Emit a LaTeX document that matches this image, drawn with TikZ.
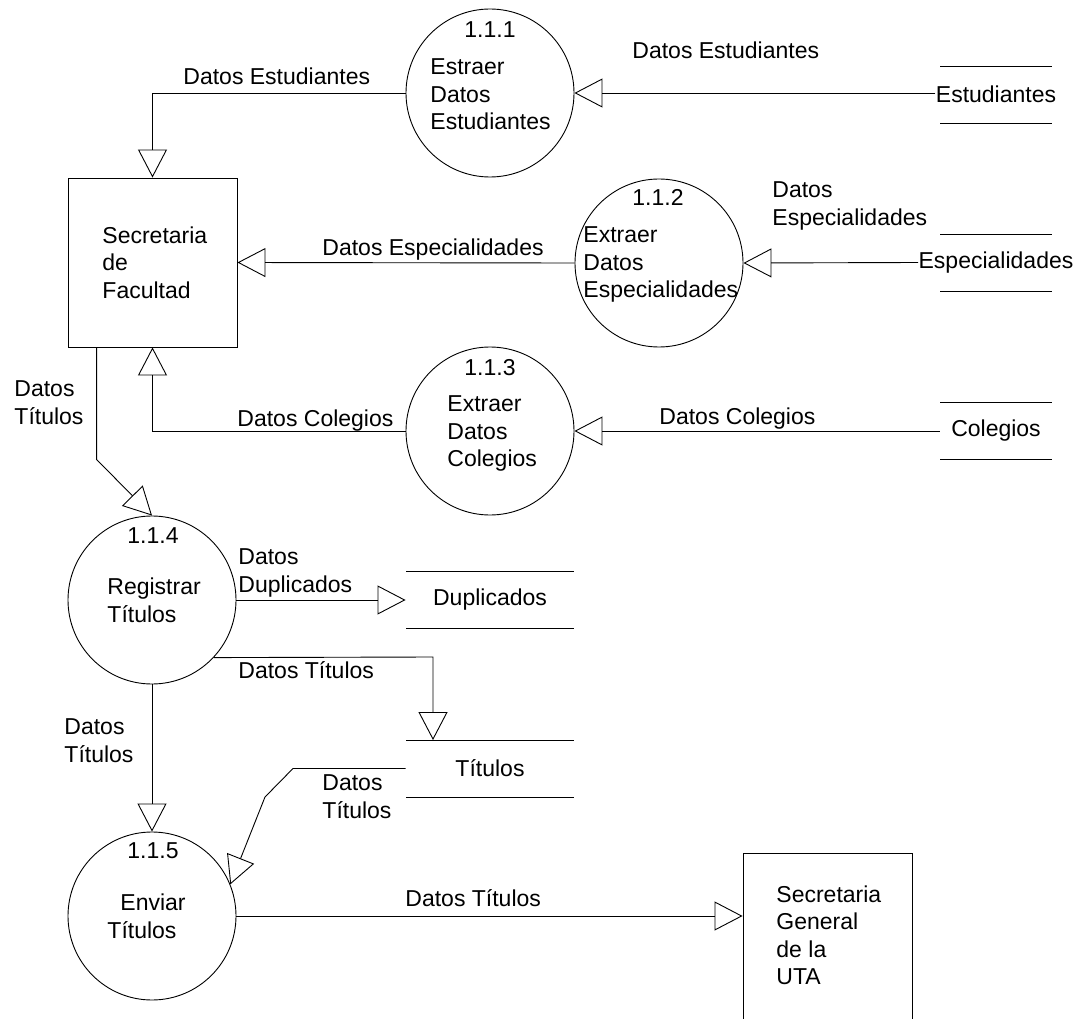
\documentclass[tikz,border=0pt]{standalone}
\usepackage{fontspec}
\setmainfont{Liberation Sans}
\usetikzlibrary{arrows.meta,calc}

\tikzset{
  every node/.style={font=\fontsize{23}{27.5}\selectfont, inner sep=0pt},
  proc/.style={circle, draw, minimum size=168pt},
  entity/.style={rectangle, draw, minimum width=169pt},
  store/.style={rectangle, minimum height=56pt, minimum width=#1},
  txt/.style={align=left, anchor=north west},
  lbl/.style={anchor=base west},
  num/.style={anchor=base},
  flow/.style={draw, -{Triangle[open, length=28pt, width=29pt]}},
}

\begin{document}
\begin{tikzpicture}[x=1pt, y=-1pt, line width=0.9pt]
\clip (0,0) rectangle (1085,1019);
\fill[white] (0,0) rectangle (1085,1019);

% external entities
\node[entity, minimum height=169pt] (sf) at (152.5,262.5) {};
\node[txt] (sfT) at (102,226.3) {Secretaria\\de\\Facultad};
\node[entity, minimum height=186pt] (sg) at (827.5,946) {};
\node[txt] (sgT) at (776,885.3) {Secretaria\\General\\de la\\UTA};

% processes
\node[proc] (c111) at (490,93) {};
\node[num] (n111) at (490,38) {1.1.1};
\node[txt] (t111) at (430,58.3) {Estraer\\Datos\\Estudiantes};

\node[proc] (c112) at (659,263) {};
\node[num] (n112) at (658,206) {1.1.2};
\node[txt] (t112) at (583,226.3) {Extraer\\Datos\\Especialidades};

\node[proc] (c113) at (490,431) {};
\node[num] (n113) at (490,375) {1.1.3};
\node[txt] (t113) at (447,395.3) {Extraer\\Datos\\Colegios};

\node[proc] (c114) at (152,600) {};
\node[num] (n114) at (153,543) {1.1.4};
\node[txt] (t114) at (107,577.5) {Registrar\\Títulos};

\node[proc] (c115) at (152,916) {};
\node[num] (n115) at (153,858) {1.1.5};
\node[txt] (t115) at (107,893.5) {\hspace*{13pt}Enviar\\Títulos};

% data stores
\node[store=112pt] (est) at (996,94.5) {Estudiantes};
\node[store=112pt] (esp) at (996,262.5) {Especialidades};
\node[store=112pt] (col) at (996,431) {Colegios};
\node[store=168pt] (dup) at (490,600) {Duplicados};
\node[store=168pt] (tit) at (490,768.5) {Títulos};
\foreach \n/\w in {est/56, esp/56, col/56, dup/84, tit/84} {
  \draw ($(\n.center)+(-\w,-28.5)$) -- ($(\n.center)+(\w,-28.5)$);
  \draw ($(\n.center)+(-\w,28.5)$) -- ($(\n.center)+(\w,28.5)$);
}

% data flows
\draw[flow] (est.west |- c111.east) -- (c111.east);
\draw[flow] (c111.west) -| (sf.north);
\draw[flow] (esp.west) -- (c112.east);
\draw[flow] (c112.west) -- (sf.east);
\draw[flow] (col.west) -- (c113.east);
\draw[flow] (c113.west) -| (sf.south);

\coordinate (sfOut) at ([xshift=29pt]sf.south west);
\draw[flow] (sfOut) -- ++(0,112) -- (c114.north);
\draw[flow] (c114.east) -- (dup.west);
\coordinate (tBend) at (433,657);
\draw[flow] (c114.-43) -- (tBend) -- (tBend |- tit.north);
\draw[flow] (c114.south) -- (c115.north);
\coordinate (tA) at (293,768.5);
\coordinate (tB) at (265,797);
\draw[flow] (tit.west) -- (tA) -- (tB) -- (c115.22);
\draw[flow] (c115.east) -- (c115.east -| sg.west);

% flow labels
\node[lbl] (l1) at (183,85) {Datos Estudiantes};
\node[lbl] (l2) at (632,59) {Datos Estudiantes};
\node[txt] (l3) at (772,181.3) {Datos\\Especialidades};
\node[lbl] (l4) at (322,256) {Datos Especialidades};
\node[lbl] (l5) at (237,426) {Datos Colegios};
\node[lbl] (l6) at (659,424) {Datos Colegios};
\node[txt] (l7) at (14,380.3) {Datos\\Títulos};
\node[txt] (l8) at (238,548.3) {Datos\\Duplicados};
\node[lbl] (l9) at (238,678) {Datos Títulos};
\node[txt] (l10) at (64,718.3) {Datos\\Títulos};
\node[txt] (l11) at (322,774.3) {Datos\\Títulos};
\node[lbl] (l12) at (405,906) {Datos Títulos};
\end{tikzpicture}
\end{document}
